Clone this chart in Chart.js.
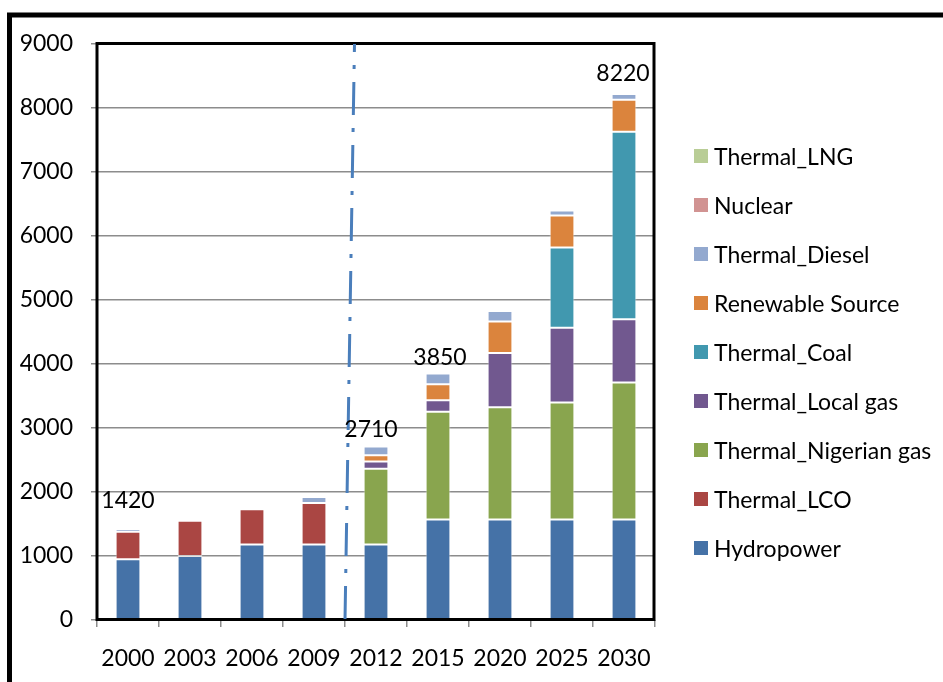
<!DOCTYPE html>
<html>
<head>
<meta charset="utf-8">
<script src="https://cdn.jsdelivr.net/npm/chart.js@4.4.1/dist/chart.umd.min.js"></script>
<style>
  html, body { margin: 0; padding: 0; background: #ffffff; }
  #wrap { width: 943px; height: 682px; }
  canvas { display: block; }
</style>
</head>
<body>
<div id="wrap"><canvas id="chart" width="943" height="682"></canvas></div>
<script>
// Installed generation capacity (MW) by source
const years = ['2000', '2003', '2006', '2009', '2012', '2015', '2020', '2025', '2030'];
const hydropower         = [950, 1000, 1180, 1180, 1180, 1570, 1570, 1570, 1570];
const thermalLCO         = [430, 550, 550, 650, 0, 0, 0, 0, 0];
const thermalNigerianGas = [0, 0, 0, 0, 1185, 1685, 1755, 1830, 2140];
const thermalLocalGas    = [0, 0, 0, 0, 110, 180, 845, 1165, 990];
const thermalCoal        = [0, 0, 0, 0, 0, 0, 0, 1255, 2930];
const renewableSource    = [0, 0, 0, 0, 100, 250, 495, 500, 500];
const thermalDiesel      = [40, 30, 0, 90, 135, 165, 165, 80, 90];
const nuclear            = [0, 0, 0, 0, 0, 0, 0, 0, 0];
const thermalLNG         = [0, 0, 0, 0, 0, 0, 0, 0, 0];
const yTicks = [0, 1000, 2000, 3000, 4000, 5000, 6000, 7000, 8000, 9000];
// Years whose stacked total is written above the bar
const totalLabelYears = ['2000', '2012', '2015', '2030'];

const FONT = "Lato, 'Open Sans', sans-serif";
const FONT_SIZE = 23;

const series = [
  { label: 'Hydropower',           data: hydropower,         color: '#4572A7' },
  { label: 'Thermal_LCO',          data: thermalLCO,         color: '#AA4643' },
  { label: 'Thermal_Nigerian gas', data: thermalNigerianGas, color: '#89A54E' },
  { label: 'Thermal_Local gas',    data: thermalLocalGas,    color: '#71588F' },
  { label: 'Thermal_Coal',         data: thermalCoal,        color: '#4198AF' },
  { label: 'Renewable Source',     data: renewableSource,    color: '#DB843D' },
  { label: 'Thermal_Diesel',       data: thermalDiesel,      color: '#93A9CF' },
  { label: 'Nuclear',              data: nuclear,            color: '#D19392' },
  { label: 'Thermal_LNG',          data: thermalLNG,         color: '#B9CD96' }
];

// Outer frame and white page
const pagePlugin = {
  id: 'page',
  beforeDraw(chart) {
    const ctx = chart.ctx;
    ctx.save();
    ctx.fillStyle = '#ffffff';
    ctx.fillRect(0, 0, chart.width, chart.height);
    ctx.strokeStyle = '#000000';
    ctx.lineWidth = 5;
    ctx.strokeRect(9.5, 15, 2000, 2000);
    ctx.restore();
  }
};

// Plot border, period divider and total labels
const overlayPlugin = {
  id: 'overlay',
  afterDatasetsDraw(chart) {
    const ctx = chart.ctx;
    const a = chart.chartArea;
    const xs = chart.scales.x;
    const ys = chart.scales.y;
    ctx.save();

    ctx.strokeStyle = '#000000';
    ctx.lineWidth = 3;
    ctx.strokeRect(a.left, a.top - 0.5, a.right - a.left - 1, a.bottom - a.top);

    // dash-dot divider between historical and projected years
    const xDiv = (xs.getPixelForValue(3) + xs.getPixelForValue(4)) / 2;
    ctx.strokeStyle = '#4A7EBB';
    ctx.lineWidth = 3;
    ctx.setLineDash([33, 13, 4, 13]);
    ctx.lineDashOffset = 25;
    ctx.beginPath();
    ctx.moveTo(xDiv + 9.5, a.top);
    ctx.lineTo(xDiv, a.bottom);
    ctx.stroke();
    ctx.setLineDash([]);

    // stacked totals
    const shifts = { '2000': [0, -21], '2012': [-5, -10], '2015': [2, -9], '2030': [-1, -13] };
    ctx.fillStyle = '#000000';
    ctx.font = FONT_SIZE + 'px ' + FONT;
    ctx.textAlign = 'center';
    ctx.textBaseline = 'alphabetic';
    totalLabelYears.forEach(yr => {
      const i = years.indexOf(yr);
      const total = series.reduce((s, d) => s + d.data[i], 0);
      const [dx, dy] = shifts[yr];
      ctx.fillText(String(total), xs.getPixelForValue(i) + dx, ys.getPixelForValue(total) + dy);
    });
    ctx.restore();
  }
};

// Legend listed top-down from the last series to the first
const legendPlugin = {
  id: 'sideLegend',
  afterDraw(chart) {
    const ctx = chart.ctx;
    ctx.save();
    ctx.font = FONT_SIZE + 'px ' + FONT;
    ctx.textAlign = 'left';
    ctx.textBaseline = 'alphabetic';
    const items = chart.data.datasets.slice().reverse();
    items.forEach((ds, i) => {
      const cy = 156 + i * 49;
      ctx.fillStyle = ds.backgroundColor;
      ctx.fillRect(694, cy - 7, 14, 14);
      ctx.fillStyle = '#000000';
      ctx.fillText(ds.label, 714, cy + 8.5);
    });
    ctx.restore();
  }
};

new Chart(document.getElementById('chart'), {
  type: 'bar',
  data: {
    labels: years,
    datasets: series.map(s => ({
      label: s.label,
      data: s.data,
      backgroundColor: s.color,
      borderColor: 'rgba(255,255,255,0.55)',
      borderWidth: 1,
      borderSkipped: false,
      barPercentage: 0.4,
      categoryPercentage: 1.0
    }))
  },
  options: {
    responsive: false,
    devicePixelRatio: 1,
    animation: false,
    layout: { padding: { top: 44, right: 288, left: 0, bottom: 0 } },
    plugins: {
      legend: { display: false },
      tooltip: { enabled: false }
    },
    scales: {
      x: {
        stacked: true,
        grid: { drawOnChartArea: false, drawTicks: true, tickLength: 7, color: '#8c8c8c', lineWidth: 1.5 },
        border: { display: false },
        ticks: { color: '#000000', font: { family: FONT, size: FONT_SIZE }, padding: 18, maxRotation: 0, autoSkip: false },
        afterFit(scale) { scale.height = 62; }
      },
      y: {
        stacked: true,
        min: 0,
        max: 9000,
        afterBuildTicks(scale) { scale.ticks = yTicks.map(v => ({ value: v })); },
        grid: { color: '#8c8c8c', lineWidth: 1.5, tickLength: 6 },
        border: { display: false },
        ticks: {
          color: '#000000',
          font: { family: FONT, size: FONT_SIZE },
          padding: 18,
          callback: v => String(v)
        },
        afterFit(scale) { scale.width = 97; }
      }
    }
  },
  plugins: [pagePlugin, overlayPlugin, legendPlugin]
});
</script>
</body>
</html>
